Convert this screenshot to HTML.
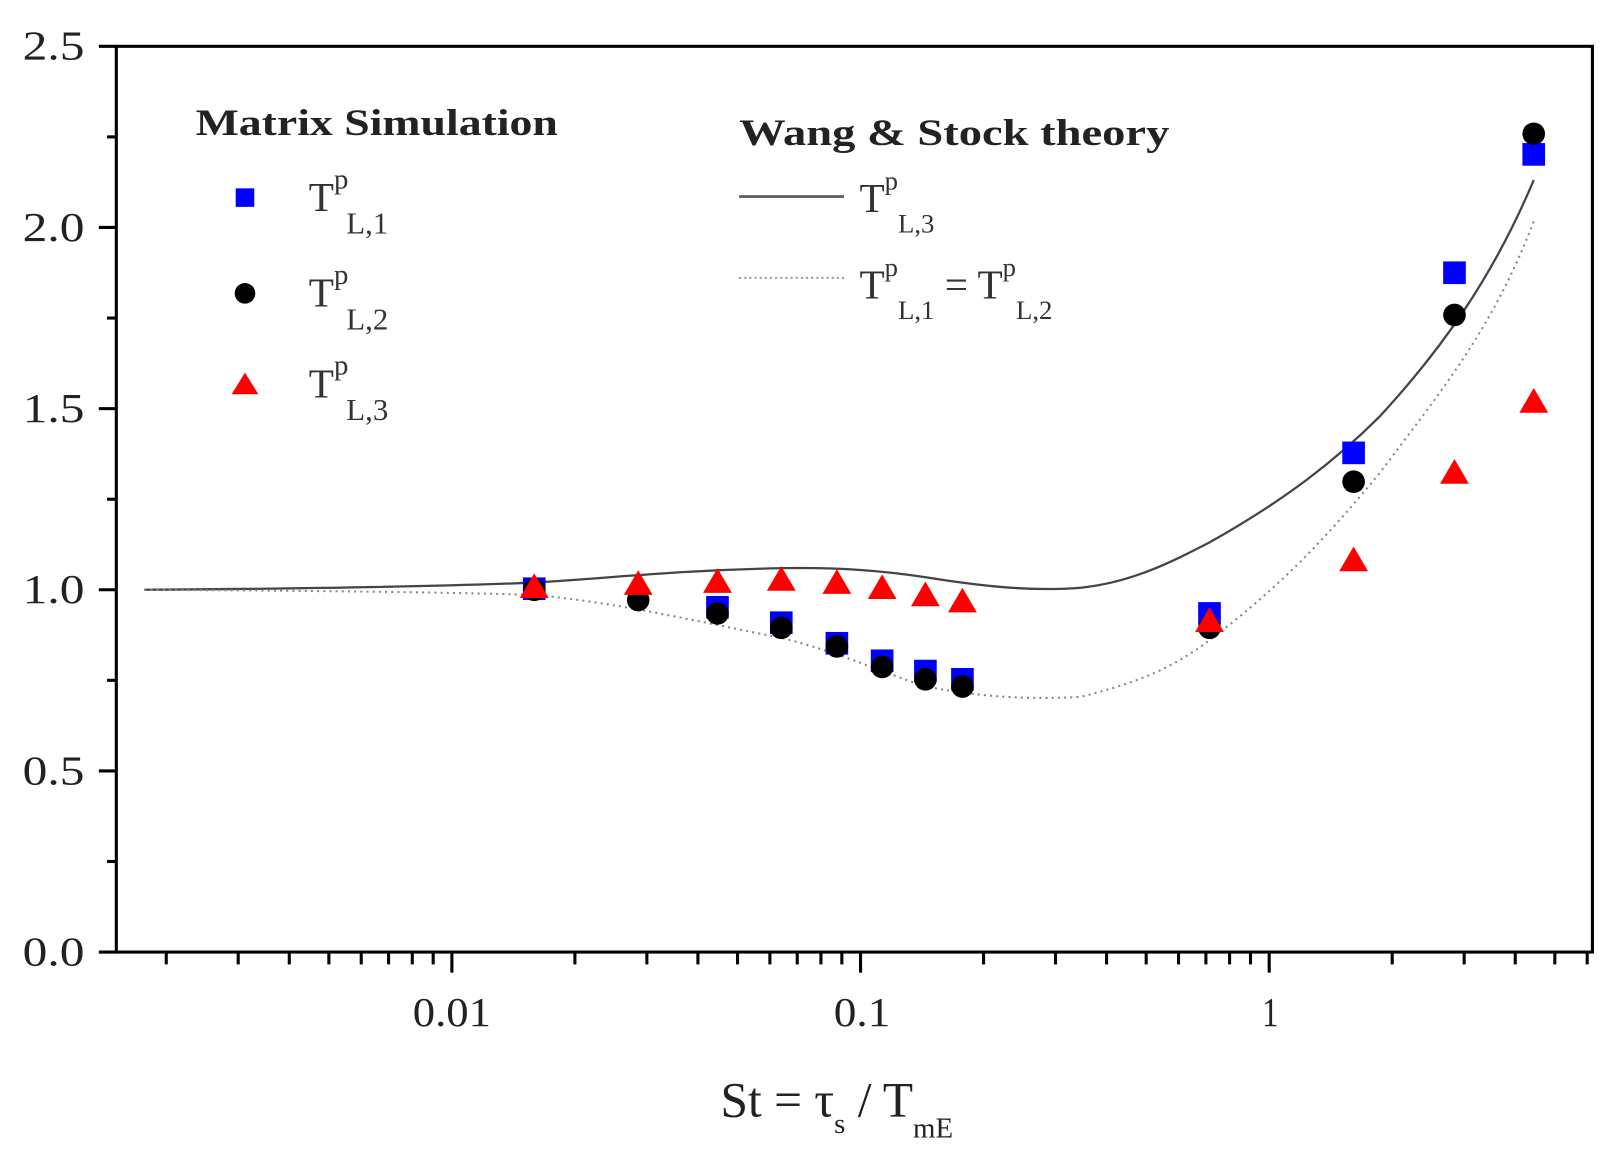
<!DOCTYPE html>
<html><head><meta charset="utf-8"><style>html,body{margin:0;padding:0;background:#fff}svg{display:block}</style></head>
<body>
<svg width="1613" height="1161" viewBox="0 0 1567 1128" preserveAspectRatio="none" xmlns="http://www.w3.org/2000/svg" font-family="Liberation Serif, serif">
<rect width="1567" height="1128" fill="#fff"/>
<g id="ticks" stroke="#000" stroke-width="3"></g>
<rect x="113" y="45" width="1434" height="880" fill="none" stroke="#000" stroke-width="3"/>
<g font-size="40" fill="#222" text-anchor="end">
<text x="82" y="938" textLength="60" lengthAdjust="spacingAndGlyphs">0.0</text><text x="82" y="762" textLength="60" lengthAdjust="spacingAndGlyphs">0.5</text><text x="82" y="586" textLength="60" lengthAdjust="spacingAndGlyphs">1.0</text>
<text x="82" y="410" textLength="60" lengthAdjust="spacingAndGlyphs">1.5</text><text x="82" y="234" textLength="60" lengthAdjust="spacingAndGlyphs">2.0</text><text x="82" y="58" textLength="60" lengthAdjust="spacingAndGlyphs">2.5</text>
</g>
<g font-size="40" fill="#222">
<text x="401" y="997" textLength="76" lengthAdjust="spacingAndGlyphs">0.01</text><text x="810" y="997" textLength="55" lengthAdjust="spacingAndGlyphs">0.1</text><text x="1226" y="997" textLength="16" lengthAdjust="spacingAndGlyphs">1</text>
</g>
<text x="700" y="1085" font-size="48" fill="#222">St = τ<tspan font-size="28" dy="16">s</tspan><tspan dy="-16"> / T</tspan><tspan font-size="28" dy="20">mE</tspan></text>
<path d="M140,573 C300,572 420,570 520,566 C600,561 660,554 760,552 C820,551 860,555 900,561 C950,569 1000,575 1050,571 C1100,566 1140,545 1175,527 C1250,485 1300,445 1340,405 C1400,340 1450,270 1490,175" fill="none" stroke="#444" stroke-width="2.2"/>
<path d="M140,573 C300,574 420,575 520,578 C600,586 660,600 760,620 C820,635 860,655 900,667 C950,677 1000,680 1050,677 C1110,662 1140,648 1175,622 C1250,565 1290,520 1340,460 C1400,380 1450,320 1490,215" fill="none" stroke="#888" stroke-width="2" stroke-dasharray="2,4"/>
<g id="pts"></g>
<text x="190" y="131" font-size="36" font-weight="bold" fill="#222" textLength="352" lengthAdjust="spacingAndGlyphs">Matrix Simulation</text>
<text x="718" y="141" font-size="36" font-weight="bold" fill="#222" textLength="418" lengthAdjust="spacingAndGlyphs">Wang &amp; Stock theory</text>
<rect x="229" y="183" width="18" height="18" fill="#00f"/>
<circle cx="238" cy="285" r="10" fill="#000"/>
<polygon points="238,362 251,383 225,383" fill="#f00"/>
<g font-size="40" fill="#333">
<text x="300" y="205">T<tspan font-size="28" dy="-22">p</tspan><tspan font-size="30" dx="-2" dy="44">L,1</tspan></text>
<text x="300" y="298">T<tspan font-size="28" dy="-22">p</tspan><tspan font-size="30" dx="-2" dy="44">L,2</tspan></text>
<text x="300" y="386">T<tspan font-size="28" dy="-22">p</tspan><tspan font-size="30" dx="-2" dy="44">L,3</tspan></text>
<text x="835" y="206">T<tspan font-size="26" dy="-22">p</tspan><tspan font-size="26" dy="42">L,3</tspan></text>
<text x="835" y="290">T<tspan font-size="26" dy="-22">p</tspan><tspan font-size="26" dy="42">L,1</tspan><tspan dy="-20"> = T</tspan><tspan font-size="26" dy="-22">p</tspan><tspan font-size="26" dy="42">L,2</tspan></text>
</g>
<line x1="718" y1="191" x2="820" y2="191" stroke="#555" stroke-width="2.5"/>
<line x1="718" y1="270" x2="820" y2="270" stroke="#999" stroke-width="2" stroke-dasharray="2,3"/>
<script>
var NS="http://www.w3.org/2000/svg";
function el(p,t,a){var e=document.createElementNS(NS,t);for(var k in a)e.setAttribute(k,a[k]);p.appendChild(e);return e;}
var tg=document.getElementById("ticks");
function X(s){return 836+397*Math.log10(s/0.1);}
[0.001,0.01,0.1,1].forEach(function(d){for(var m=1;m<10;m++){var s=d*m;var x=X(s);if(x<115||x>1545)continue;el(tg,"line",{x1:x,y1:925,x2:x,y2:m==1?945:937});}});
for(var i=0;i<=10;i++){var y=925-88*i;el(tg,"line",{x1:113,y1:y,x2:i%2==0?96:104,y2:y});}
var pg=document.getElementById("pts");
var sq=[[519,572],[697,590],[759,605],[813,625],[857,642],[899,652],[935,660],[1175,596],[1315,440],[1413,265],[1490,150]];
var ci=[[519,573],[620,583],[697,596],[759,610],[813,628],[857,648],[899,660],[935,667],[1175,610],[1315,468],[1413,306],[1490,130]];
var tr=[[519,569],[620,566],[697,564],[759,562],[813,565],[857,570],[899,577],[935,583],[1175,602],[1315,543],[1413,458],[1490,389]];
sq.forEach(function(p){el(pg,"rect",{x:p[0]-11,y:p[1]-11,width:22,height:22,fill:"#00f"});});
ci.forEach(function(p){el(pg,"circle",{cx:p[0],cy:p[1],r:11,fill:"#000"});});
tr.forEach(function(p){el(pg,"polygon",{points:(p[0])+","+(p[1]-12)+" "+(p[0]+14)+","+(p[1]+12)+" "+(p[0]-14)+","+(p[1]+12),fill:"#f00"});});
</script>
</svg>
</body></html>
